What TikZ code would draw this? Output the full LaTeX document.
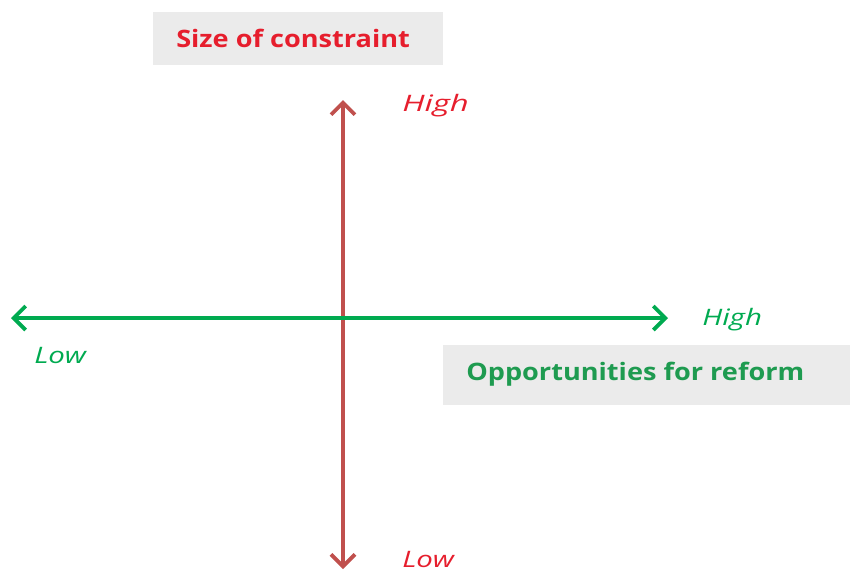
\documentclass[tikz,border=0pt]{standalone}
\usepackage{fontspec}
\setmainfont{Open Sans}
\newfontfamily\titlefont[FakeStretch=1.13]{Open Sans}
\newfontfamily\labfont[FakeStretch=1.3]{Open Sans}
\newfontfamily\labwidefont[FakeStretch=1.45]{Open Sans}
\usetikzlibrary{arrows.meta}
\definecolor{axred}{RGB}{192,80,77}
\definecolor{axgreen}{RGB}{0,170,80}
\definecolor{txtred}{RGB}{230,30,45}
\definecolor{txtgreen}{RGB}{30,155,80}
\definecolor{boxgray}{RGB}{235,235,235}
\tikzset{
  axis/.style={{Straight Barb[length=9pt,width=18pt,line width=2.8pt]}-{Straight Barb[length=9pt,width=18pt,line width=2.8pt]}},
  titlebox/.style={fill=boxgray, inner sep=0pt, anchor=north west},
  titletext/.style={font=\titlefont\fontsize{18}{20}\selectfont\bfseries, anchor=base west, inner sep=0pt},
  lab/.style={font=\labfont\fontsize{17}{19}\selectfont\itshape, inner sep=0pt, anchor=base west}
}
\begin{document}
\begin{tikzpicture}[x=0.75pt,y=-0.75pt]
\useasboundingbox (0,0) rectangle (850,572);
% title boxes
\node[titlebox, minimum width=290*0.75pt, minimum height=53*0.75pt] (tbox) at (153,12) {};
\node[titletext, text=txtred] (ttxt) at (176,47) {Size of constraint};
\node[titlebox, minimum width=407*0.75pt, minimum height=60*0.75pt] (obox) at (443,345) {};
\node[titletext, text=txtgreen] (otxt) at (466,380) {Opportunities for reform};
% axes
\coordinate (vtop) at (343,100);
\coordinate (vbot) at (343,569);
\coordinate (hl) at (11,318);
\coordinate (hr) at (668,318);
\draw[axis, axred, line width=3.5pt] (vbot) -- (vtop);
\draw[axis, axgreen, line width=3pt] (hl) -- (hr);
% labels
\node[lab, text=txtred, font=\labwidefont\fontsize{17}{19}\selectfont\itshape] (vhigh) at (402,111) {High};
\node[lab, text=axgreen] (hhigh) at (702,325) {High};
\node[lab, text=axgreen] (hlow) at (34,363) {Low};
\node[lab, text=txtred] (vlow) at (402,567) {Low};
\end{tikzpicture}
\end{document}
